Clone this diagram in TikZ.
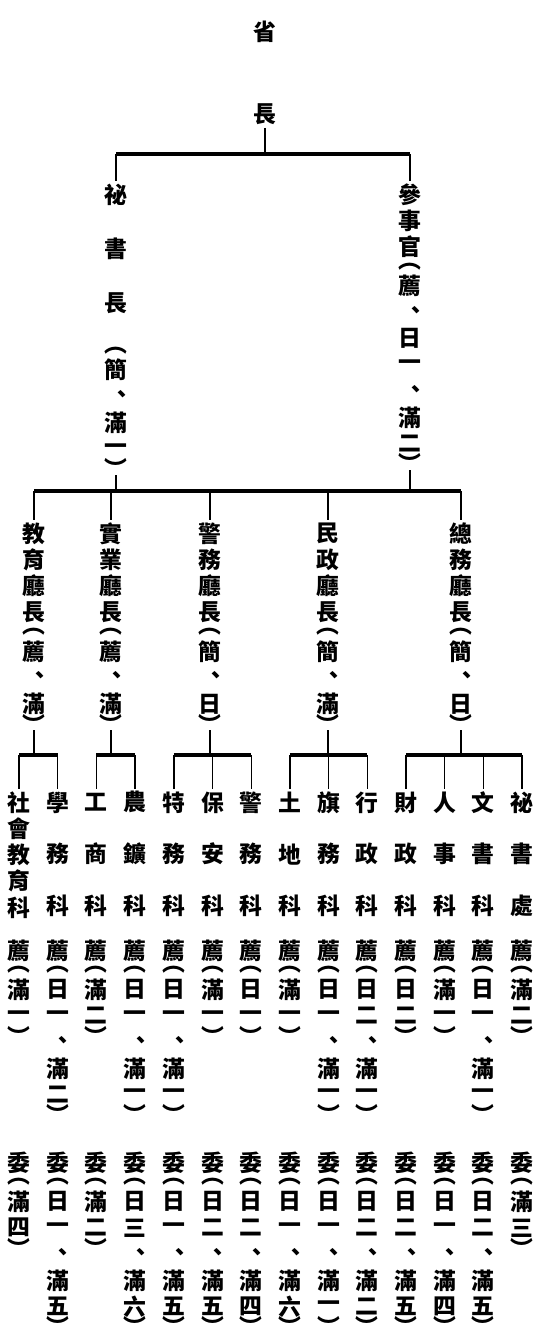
\documentclass[tikz,border=0pt]{standalone}
\usepackage{fontspec}
\newfontfamily\cjk{Noto Sans CJK TC}
% vertical text: one character per cell
\newdimen\vpitch \vpitch=0.525cm
\newdimen\vparen \vparen=0.26cm
\newdimen\vgapsize \vgapsize=0.51cm
\chardef\vgap=1
\chardef\vstop=2
\def\vtext#1{\edef\vtmp{#1}\vbox{\offinterlineskip\expandafter\vloop\vtmp\vstop}}
\def\vloop#1{\ifx#1\vstop\else\vone{#1}\expandafter\vloop\fi}
\def\vcell#1#2{\vbox to#1{\vss\hbox to\vpitch{\hss#2\hss}\vss}}
\def\vone#1{%
  \ifx#1\vgap\vskip\vgapsize\relax
  \else\ifx#1（\vcell\vparen{︵}%
  \else\ifx#1）\vcell\vparen{︶}%
  \else\ifx#1、\vcell\vpitch{\kern.5em、}%
  \else\vcell\vpitch{#1}%
  \fi\fi\fi\fi}
\begin{document}
\begin{tikzpicture}[x=0.02cm, y=-0.02cm,
    vt/.style={inner sep=0pt, anchor=north, font=\cjk\bfseries\fontsize{13pt}{14pt}\selectfont},
    hbar/.style={line width=1.8pt},
    stem/.style={line width=0.8pt}]
    \useasboundingbox (0,0) rectangle (540,1341);
    % governor
        \node[vt] (gov) at (265,17.9) {\vgapsize=1.134cm\vtext{省\vgap 長}};
    % first level
        \node[vt] (sec) at (116,180.9) {\vgapsize=0.56cm\vtext{祕\vgap 書\vgap 長\vgap （簡、滿一）}};
        \node[vt] (cou) at (410,180.9) {\vtext{參事官（薦、日一、滿二）}};
    % departments
        \foreach \nm/\x/\t in {edu/34/教育廳長（薦、滿）,ind/111/實業廳長（薦、滿）,
            pol/210/警務廳長（簡、日）,civ/328/民政廳長（簡、滿）,gen/461/總務廳長（簡、日）}{
            \node[vt] (\nm) at (\x,519.9) {\vtext{\t}};
        }
    % sections
        \foreach \i/\n/\a/\b in {0/社會教育科/滿一/滿四,1/學\vgap 務\vgap 科/日一、滿二/日一、滿五,
            2/工\vgap 商\vgap 科/滿二/滿二,3/農\vgap 鑛\vgap 科/日一、滿一/日三、滿六,
            4/特\vgap 務\vgap 科/日一、滿一/日一、滿五,5/保\vgap 安\vgap 科/滿一/日二、滿五,
            6/警\vgap 務\vgap 科/日一/日二、滿四,7/土\vgap 地\vgap 科/滿一/日一、滿六,
            8/旗\vgap 務\vgap 科/日一、滿一/日一、滿一,9/行\vgap 政\vgap 科/日二、滿一/日二、滿二,
            10/財\vgap 政\vgap 科/日二/日二、滿五,11/人\vgap 事\vgap 科/滿一/日一、滿四,
            12/文\vgap 書\vgap 科/日一、滿一/日二、滿五,13/祕\vgap 書\vgap 處/滿二/滿三}{
            \node[vt] (n\i) at (19+38.7*\i,788.9) {\vtext{\n}};
            \node[vt] (j\i) at (19+38.7*\i,936.9) {\vtext{薦（\a）}};
            \node[vt] (w\i) at (19+38.7*\i,1148.9) {\vtext{委（\b）}};
        }
    % lines
        \coordinate (r0) at (265,154);
        \coordinate (r1) at (265,491);
        \coordinate (r2) at (265,755);
        \draw[stem] (gov.south) -- (gov |- r0);
        \draw[hbar] (sec |- r0) -- (cou |- r0);
        \draw[hbar] (edu |- r1) -- (gen |- r1);
        \foreach \nm in {sec,cou}{
            \draw[stem] (\nm |- r0) -- (\nm.north);
            \draw[stem] (\nm.south) -- (\nm |- r1);
        }
        \foreach \nm in {edu,ind,pol,civ,gen}
            \draw[stem] (\nm |- r1) -- (\nm.north);
        \foreach \nm/\l/\r in {edu/0/1,ind/2/3,pol/4/6,civ/7/9,gen/10/13}{
            \draw[stem] (\nm.south) -- (\nm |- r2);
            \draw[hbar] (n\l |- r2) -- (n\r |- r2);
            \foreach \k in {\l,...,\r}
                \draw[stem] (n\k |- r2) -- (n\k.north);
        }
\end{tikzpicture}
\end{document}
